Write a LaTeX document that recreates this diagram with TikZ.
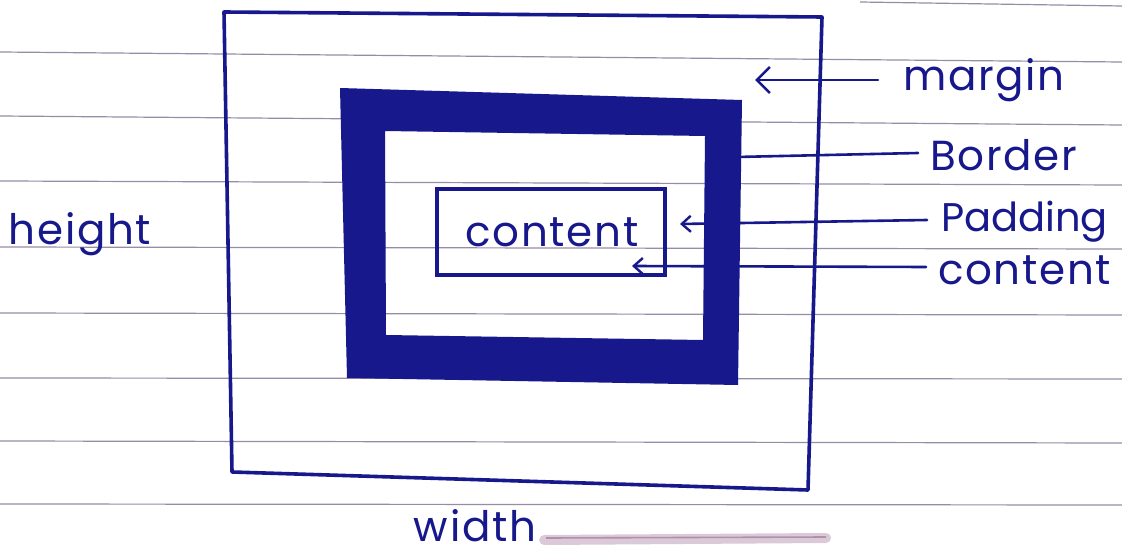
\documentclass[tikz,border=0pt]{standalone}
\usepackage{fontspec}
\setmainfont{Poppins}
\usetikzlibrary{arrows.meta}
\definecolor{ink}{RGB}{22,24,140}
\definecolor{rule}{RGB}{150,140,165}
\definecolor{smear}{RGB}{150,105,145}
\newcommand{\hand}{\fontsize{42}{42}\selectfont\addfontfeature{LetterSpace=4}}
\newcommand{\handtight}{\fontsize{40}{40}\selectfont}
\tikzset{
  inkline/.style={draw=ink, line width=3.6pt, line join=round, line cap=round},
  paperline/.style={draw=rule, line width=1.2pt},
  lbl/.style={text=ink, font=\hand, inner sep=0pt, anchor=west},
  pointer/.style={draw=ink, line width=2.6pt, line cap=round},
  barb/.style={-{Straight Barb[length=13pt,width=26pt,line width=2.6pt]}},
  smallbarb/.style={-{Straight Barb[length=9pt,width=16pt,line width=2.4pt]}},
}
\begin{document}
\begin{tikzpicture}[x=1pt,y=-1pt]
\useasboundingbox (0,0) rectangle (1122,556);
\fill[white] (0,0) rectangle (1122,556);
% notebook lines
\draw[paperline] (0,52) -- (1122,62);
\draw[paperline] (0,116) -- (1122,125);
\draw[paperline] (0,181) -- (1122,185);
\draw[paperline] (0,247) -- (1122,249);
\draw[paperline] (0,313) -- (1122,315);
\draw[paperline] (0,378) -- (1122,379);
\draw[paperline] (0,441) -- (1122,443);
\draw[paperline] (0,504) -- (1122,505);
\draw[paperline] (860,2) -- (1122,6);
% margin box
\draw[inkline] (224,12) -- (822,17) -- (808,490) -- (232,472) -- cycle;
% border box (thick)
\fill[fill=ink, even odd rule]
  (340,88) -- (742,100) -- (738,385) -- (347,378) -- cycle
  (385,131) -- (705,136) -- (703,340) -- (386,335) -- cycle;
% content box
\node[draw=ink, line width=3.2pt, minimum width=228pt, minimum height=86pt, inner sep=0pt] (cbox) at (551,232) {};
\node[text=ink, font=\hand, inner sep=0pt] (ctext) at (552,232) {content};
% labels
\node[lbl] (lmargin) at (903,80) {margin};
\node[lbl] (lborder) at (930,155) {Border};
\node[lbl, font=\handtight] (lpadding) at (941,222) {Padding};
\node[lbl] (lcontent) at (938,270) {content};
\node[lbl, anchor=center] (lheight) at (80,234) {height};
\node[lbl, anchor=center] (lwidth) at (475,526) {width};
% arrow targets
\coordinate (tmargin) at (755,80);
\coordinate (tborder) at (736,157);
\coordinate (tpadding) at (680,224);
\coordinate (tcontent) at (632,266);
\coordinate (smearend) at (826,538);
\draw[pointer, barb] ([xshift=-25pt]lmargin.west) -- (tmargin);
\draw[pointer] ([xshift=-12pt,yshift=2pt]lborder.west) -- (tborder);
\draw[pointer, smallbarb] ([xshift=-14pt,yshift=2pt]lpadding.west) -- (tpadding);
\draw[pointer, smallbarb] ([xshift=-12pt,yshift=3pt]lcontent.west) -- (tcontent);
% width smear
\draw[smear, line width=10pt, opacity=0.35, line cap=round] ([xshift=8pt,yshift=-14pt]lwidth.east) -- (smearend);
\draw[smear, line width=1.6pt, opacity=0.6] ([xshift=10pt,yshift=-12pt]lwidth.east) -- ([yshift=1pt]smearend);
\end{tikzpicture}
\end{document}
